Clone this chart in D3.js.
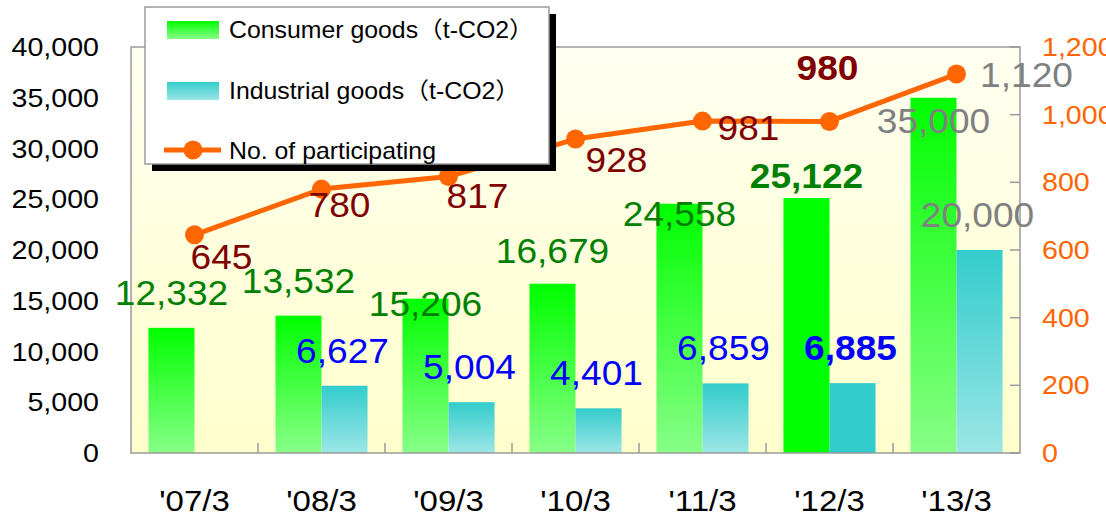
<!DOCTYPE html>
<html>
<head>
<meta charset="utf-8">
<script src="https://cdn.jsdelivr.net/npm/d3@7"></script>
<style>
  body { margin: 0; background: #fff; }
  text { font-family: "Liberation Sans", Arial, "Noto Sans CJK JP", sans-serif; }
</style>
</head>
<body>
<script>
//Width and height
var margin = {top: 47, right: 86, bottom: 62, left: 131};
var width = 1106 - margin.left - margin.right;
var height = 515 - margin.top - margin.bottom;

// data
var categories = ["'07/3", "'08/3", "'09/3", "'10/3", "'11/3", "'12/3", "'13/3"];
var consumer = [12332, 13532, 15206, 16679, 24558, 25122, 35000];
var industrial = [null, 6627, 5004, 4401, 6859, 6885, 20000];
var participants = [645, 780, 817, 928, 981, 980, 1120];
var leftTicks = [0, 5000, 10000, 15000, 20000, 25000, 30000, 35000, 40000];
var rightTicks = [0, 200, 400, 600, 800, 1000, 1200];
var seriesNames = ["Consumer goods\uFF08t-CO2\uFF09", "Industrial goods\uFF08t-CO2\uFF09", "No. of participating"];

// label nudges (layout only), highlighted / forecast years
var consumerLabelDy = [-23, -23, 17, -21, 22, -10, 35];
var partLabelDx = [27, 18, 29, 41, 46, -2, 70];
var partLabelDy = [34, 28, 31, 33, 19, -41, 13];
var boldIndex = 5;
var greyIndex = 6;

var SX = 1.1; // source fonts look a little wide

var svg = d3.select("body").append("svg")
    .attr("width", 1106)
    .attr("height", 515);

var defs = svg.append("defs");

function vGrad(id, top, bottom) {
    var g = defs.append("linearGradient").attr("id", id)
        .attr("x1", 0).attr("y1", 0).attr("x2", 0).attr("y2", 1);
    g.append("stop").attr("offset", "0%").attr("stop-color", top);
    g.append("stop").attr("offset", "100%").attr("stop-color", bottom);
}
vGrad("bgGrad", "#fffff0", "#ffffcc");
vGrad("greenGrad", "#00ff00", "#88ff88");
vGrad("cyanGrad", "#33cccc", "#9ce6e6");

// text placed with a horizontal stretch
function stext(parent, x, y, str, size, color, anchor, weight, sx) {
    return parent.append("text")
        .attr("transform", "translate(" + x + "," + y + ") scale(" + (sx || SX) + ",1)")
        .attr("text-anchor", anchor || "middle")
        .attr("font-size", size)
        .attr("font-weight", weight || "normal")
        .attr("fill", color)
        .text(str);
}

var g = svg.append("g")
    .attr("transform", "translate(" + margin.left + "," + margin.top + ")");

// scales
var x0 = d3.scaleBand().domain(categories).range([0, width])
    .paddingInner(0.275).paddingOuter(0.1375);
var x1 = d3.scaleBand().domain(["consumer", "industrial"]).range([0, x0.bandwidth()]);
var yL = d3.scaleLinear().domain([0, 40000]).range([height, 0]);
var yR = d3.scaleLinear().domain([0, 1200]).range([height, 0]);
var fmt = d3.format(",");

// plot background
g.append("rect")
    .attr("width", width).attr("height", height)
    .attr("fill", "url(#bgGrad)");

// bars
var rows = categories.map(function(c, i) {
    return {cat: c, i: i, consumer: consumer[i], industrial: industrial[i]};
});

g.selectAll(".bar-c").data(rows).enter().append("rect")
    .attr("x", function(d) { return x0(d.cat) + x1("consumer"); })
    .attr("y", function(d) { return yL(d.consumer); })
    .attr("width", x1.bandwidth())
    .attr("height", function(d) { return height - yL(d.consumer); })
    .attr("fill", function(d) { return d.i === boldIndex ? "#00ff00" : "url(#greenGrad)"; });

g.selectAll(".bar-i").data(rows.filter(function(d) { return d.industrial != null; })).enter().append("rect")
    .attr("x", function(d) { return x0(d.cat) + x1("industrial"); })
    .attr("y", function(d) { return yL(d.industrial); })
    .attr("width", x1.bandwidth())
    .attr("height", function(d) { return height - yL(d.industrial); })
    .attr("fill", function(d) { return d.i === boldIndex ? "#33cccc" : "url(#cyanGrad)"; });

// frame
g.append("rect")
    .attr("width", width).attr("height", height)
    .attr("fill", "none").attr("stroke", "#9a9a9a").attr("stroke-width", 1.5);

// bottom ticks between categories (inward)
categories.slice(1).forEach(function(c) {
    var xx = x0(c) - x0.step() * x0.paddingInner() / 2;
    g.append("line").attr("x1", xx).attr("x2", xx)
        .attr("y1", height).attr("y2", height - 10)
        .attr("stroke", "#9a9a9a").attr("stroke-width", 1.5);
});

// right axis ticks (inward)
rightTicks.forEach(function(t) {
    g.append("line").attr("x1", width).attr("x2", width - 10)
        .attr("y1", yR(t)).attr("y2", yR(t))
        .attr("stroke", "#9a9a9a").attr("stroke-width", 1.5);
});

// axis labels
leftTicks.forEach(function(t) {
    stext(g, -32, yL(t) + 9, fmt(t), 26, "#000", "end");
});
rightTicks.forEach(function(t) {
    stext(g, width + 22, yR(t) + 9, fmt(t), 26, "#ff6600", "start");
});
categories.forEach(function(c) {
    stext(g, x0(c) + x0.bandwidth() / 2, height + 58, c, 30, "#000", "middle");
});

// line
var cx = function(i) { return x0(categories[i]) + x0.bandwidth() / 2; };
var line = d3.line()
    .x(function(d, i) { return cx(i); })
    .y(function(d) { return yR(d); });

g.append("path").datum(participants)
    .attr("d", line)
    .attr("fill", "none")
    .attr("stroke", "#ff6600")
    .attr("stroke-width", 5)
    .attr("stroke-linejoin", "round");

g.selectAll(".dot").data(participants).enter().append("circle")
    .attr("cx", function(d, i) { return cx(i); })
    .attr("cy", function(d) { return yR(d); })
    .attr("r", 9.5)
    .attr("fill", "#ff6600");

// value labels
function labelColor(i, base) { return i === greyIndex ? "#808080" : base; }
function labelWeight(i) { return i === boldIndex ? "bold" : "normal"; }

rows.forEach(function(d) {
    stext(g, x0(d.cat) + x1("consumer") + x1.bandwidth() / 2, yL(d.consumer) + consumerLabelDy[d.i],
        fmt(d.consumer), 35, labelColor(d.i, "#008000"), "middle", labelWeight(d.i), 1.06);
    if (d.industrial != null) {
        stext(g, x0(d.cat) + x1("industrial") + x1.bandwidth() / 2 - 2, yL(d.industrial) - 23,
            fmt(d.industrial), 35, labelColor(d.i, "#0000ff"), "middle", labelWeight(d.i), 1.06);
    }
});

participants.forEach(function(p, i) {
    stext(g, cx(i) + partLabelDx[i], yR(p) + partLabelDy[i],
        fmt(p), 35, labelColor(i, "#800000"), "middle", labelWeight(i), 1.06);
});

// legend
var lg = svg.append("g").attr("transform", "translate(145,7)");
lg.append("rect").attr("x", 7).attr("y", 7).attr("width", 404).attr("height", 157).attr("fill", "#000");
lg.append("rect").attr("width", 404).attr("height", 157)
    .attr("fill", "#fff").attr("stroke", "#9a9a9a").attr("stroke-width", 1.5);

lg.append("rect").attr("x", 22).attr("y", 14).attr("width", 52).attr("height", 18).attr("fill", "url(#greenGrad)");
lg.append("rect").attr("x", 22).attr("y", 75).attr("width", 52).attr("height", 18).attr("fill", "url(#cyanGrad)");
lg.append("line").attr("x1", 19).attr("x2", 76).attr("y1", 143).attr("y2", 143)
    .attr("stroke", "#ff6600").attr("stroke-width", 5);
lg.append("circle").attr("cx", 48).attr("cy", 143).attr("r", 9.5).attr("fill", "#ff6600");

stext(lg, 84, 31, seriesNames[0], 23, "#000", "start", "normal", 1.08);
stext(lg, 84, 92, seriesNames[1], 23, "#000", "start", "normal", 1.08);
stext(lg, 84, 152, seriesNames[2], 23, "#000", "start", "normal", 1.08);
</script>
</body>
</html>
